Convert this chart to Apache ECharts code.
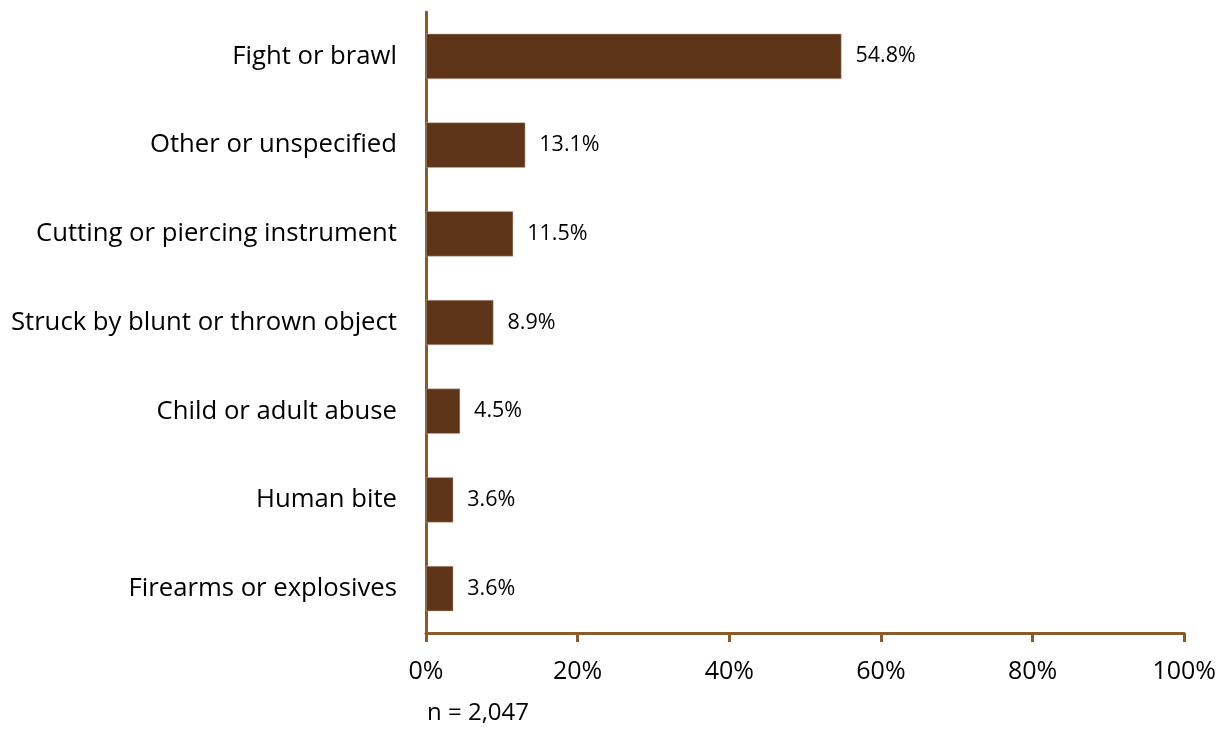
<!DOCTYPE html>
<html><head><meta charset="utf-8">
<script src="https://cdn.jsdelivr.net/npm/echarts@6/dist/echarts.min.js"></script>
<style>html,body{margin:0;padding:0;background:#fff}#c{width:1219px;height:737px}</style>
</head><body><div id="c"></div>
<script>
const categories = ["Fight or brawl","Other or unspecified","Cutting or piercing instrument","Struck by blunt or thrown object","Child or adult abuse","Human bite","Firearms or explosives"];
const values = [54.8, 13.1, 11.5, 8.9, 4.5, 3.6, 3.6];
const tickLabels = ["0%","20%","40%","60%","80%","100%"];
const note = "n = 2,047";

const chart = echarts.init(document.getElementById('c'));
const font = "'Open Sans', 'Liberation Sans', sans-serif";
chart.setOption({
  animation: false,
  grid: {left: 426, right: 34, top: 12, bottom: 104},
  xAxis: {
    type: 'value', min: 0, max: 100, interval: 20,
    axisLine: {show: true, lineStyle: {color: '#8B5A2B', width: 3}},
    axisTick: {show: true, length: 9, lineStyle: {color: '#8B5A2B', width: 3}},
    splitLine: {show: false},
    axisLabel: {margin: 26, fontSize: 25, color: '#000', fontFamily: font,
      formatter: v => tickLabels[Math.round(v/20)]}
  },
  yAxis: {
    type: 'category', data: categories, inverse: true,
    axisLine: {show: true, lineStyle: {color: '#8B5A2B', width: 3}},
    axisTick: {show: false},
    axisLabel: {margin: 29, fontSize: 25.7, color: '#000', fontFamily: font}
  },
  series: [{
    type: 'bar', data: values, barCategoryGap: '49%',
    itemStyle: {color: '#5E3519', borderColor: '#C9B3A3', borderWidth: 0.5},
    label: {show: true, position: 'right', distance: 14, fontSize: 21.5, color: '#000', fontFamily: font,
      formatter: p => p.value.toFixed(1) + '%'}
  }],
  graphic: [{type: 'text', left: 427, top: 701, style: {text: note, fontSize: 24, fill: '#000', fontFamily: font}}]
});
</script></body></html>
